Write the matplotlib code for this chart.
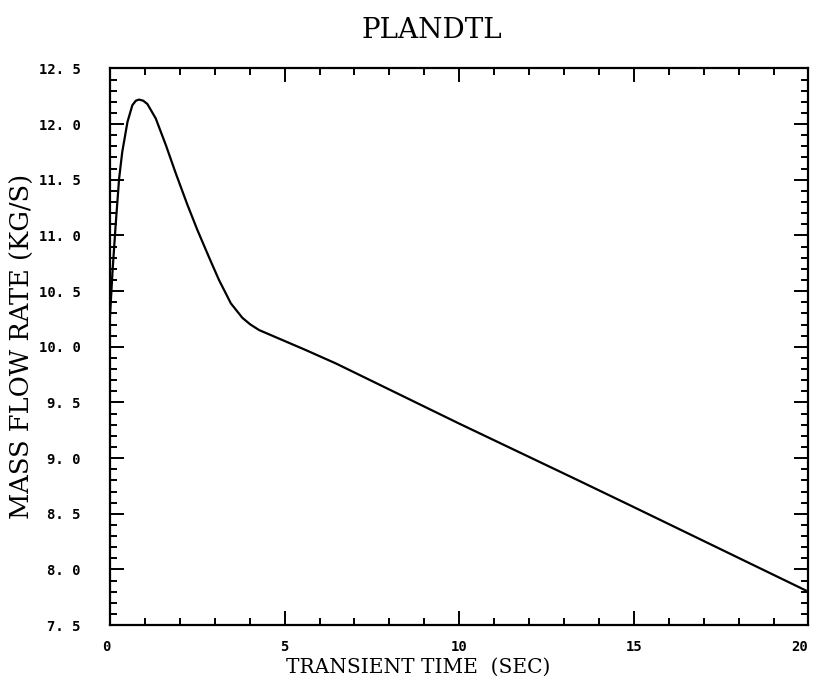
import numpy as np
import matplotlib.pyplot as plt
from matplotlib.ticker import MultipleLocator

# values
time_sec = [0.0, 0.07, 0.16, 0.26, 0.35, 0.50, 0.64, 0.74, 0.83, 0.95, 1.07, 1.31,
            1.60, 1.88, 2.21, 2.50, 2.84, 3.12, 3.46, 3.79, 4.02, 4.27, 4.94,
            5.61, 6.47, 10.0, 13.41, 15.0, 20.0]
mass_flow = [10.28, 10.67, 11.09, 11.51, 11.75, 12.02, 12.17, 12.21, 12.22, 12.21, 12.18, 12.05,
             11.81, 11.56, 11.28, 11.05, 10.80, 10.60, 10.39, 10.26, 10.20, 10.15, 10.06,
             9.97, 9.85, 9.31, 8.80, 8.56, 7.80]

xticks = [0, 5, 10, 15, 20]
yticks = [7.5, 8.0, 8.5, 9.0, 9.5, 10.0, 10.5, 11.0, 11.5, 12.0, 12.5]
ytick_labels = ['7. 5', '8. 0', '8. 5', '9. 0', '9. 5', '10. 0', '10. 5',
                '11. 0', '11. 5', '12. 0', '12. 5']

fig = plt.figure(figsize=(8.15, 6.84), dpi=100)
ax = fig.add_axes([0.135, 0.086, 0.857, 0.814])

ax.plot(time_sec, mass_flow, color='black', lw=1.6)

ax.set_xlim(0, 20)
ax.set_ylim(7.5, 12.5)
ax.set_xticks(xticks)
ax.set_yticks(yticks)
ax.set_yticklabels(ytick_labels)
ax.xaxis.set_minor_locator(MultipleLocator(1))
ax.yaxis.set_minor_locator(MultipleLocator(0.1))

tick_font = {'family': 'DejaVu Sans Mono', 'weight': 'bold', 'size': 10}
for lab in ax.get_xticklabels() + ax.get_yticklabels():
    lab.set_fontproperties(tick_font)
# end labels sit left of their ticks in the original
xl = ax.get_xticklabels()
xl[0].set_ha('right')
xl[-1].set_ha('right')

ax.tick_params(which='both', direction='in', top=True, right=True, width=1.4)
ax.tick_params(which='major', length=10)
ax.tick_params(which='minor', length=5)
ax.tick_params(axis='y', which='both', pad=21)
ax.tick_params(axis='x', which='both', pad=11)

for s in ax.spines.values():
    s.set_linewidth(1.6)

fig.text(432 / 815, 1 - 30 / 684, 'PLANDTL', family='DejaVu Serif', fontsize=20,
         ha='center', va='center')
ax.set_xlabel('TRANSIENT TIME  (SEC)', family='DejaVu Serif', fontsize=14.5)
ax.xaxis.set_label_coords(0.441, -0.059)
ax.set_ylabel('MASS FLOW RATE (KG/S)', family='DejaVu Serif', fontsize=18.5)
ax.yaxis.set_label_coords(-0.108, 0.5)

fig.savefig('out.png', dpi=100)
